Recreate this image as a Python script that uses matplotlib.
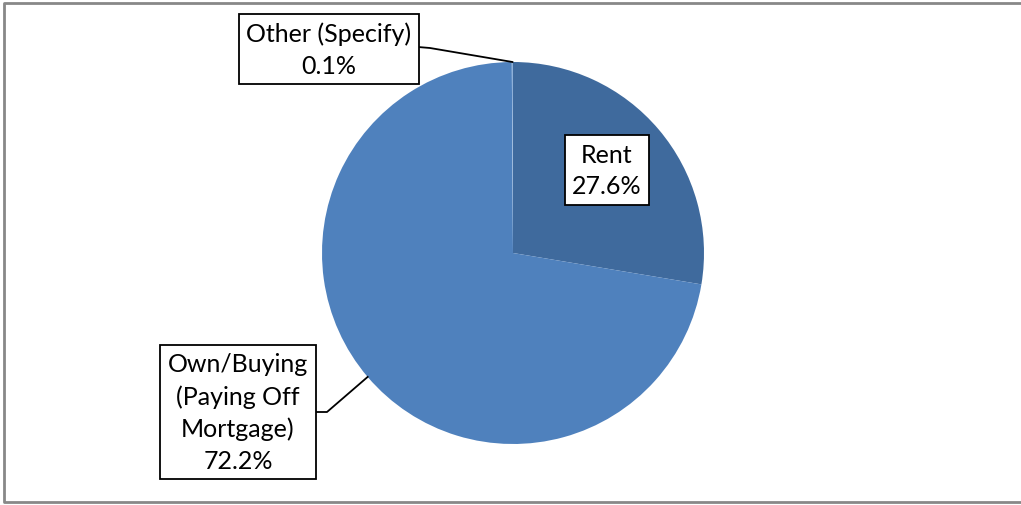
import numpy as np
import matplotlib.pyplot as plt

labels = ["Rent", "Own/Buying\n(Paying Off\nMortgage)", "Other (Specify)"]
shares = [27.6, 72.2, 0.1]
colors = ["#3F6A9D", "#4F81BD", "#8FB0D8"]

W, H = 1021, 506
fig = plt.figure(figsize=(W / 100, H / 100), dpi=100)
ax = fig.add_axes([0, 0, 1, 1])

plt.rcParams["font.family"] = ["Lato", "DejaVu Sans"]

cx, cy, r = 513, H - 254, 191
wedges, _ = ax.pie(shares, colors=colors, startangle=90, counterclock=False,
                   center=(cx, cy), radius=r, frame=True,
                   wedgeprops=dict(edgecolor="none", linewidth=0))
ax.set_xlim(0, W)
ax.set_ylim(0, H)
ax.set_aspect("equal")
ax.axis("off")

# chart border (right side is cut off in the original)
ax.plot([W, 3.5, 3.5, W], [H - 3.5, H - 3.5, 3.5, 3.5], color="#888888", lw=2)

box = dict(boxstyle="square,pad=0.3", facecolor="white", edgecolor="black", linewidth=1.3)
fs = 18
ls = 1.45

def mid_point(w, frac=1.0):
    a = np.deg2rad((w.theta1 + w.theta2) / 2)
    return cx + frac * r * np.cos(a), cy + frac * r * np.sin(a)

# Rent, label inside the slice
ax.text(607, H - 171, "%s\n%.1f%%" % (labels[0], shares[0]), ha="center", va="center",
        fontsize=fs, linespacing=ls, bbox=box)

# Own/Buying, label outside with leader
px, py = mid_point(wedges[1])
ax.plot([314, 327, px], [H - 413, H - 413, py], color="black", lw=1.3)
ax.text(238, H - 413, "%s\n%.1f%%" % (labels[1], shares[1]), ha="center", va="center",
        fontsize=fs, linespacing=ls, bbox=box)

# Other, label outside with leader
px, py = mid_point(wedges[2])
ax.plot([418, 430, px], [H - 48, H - 49, py], color="black", lw=1.3)
ax.text(329, H - 50, "%s\n%.1f%%" % (labels[2], shares[2]), ha="center", va="center",
        fontsize=fs, linespacing=ls, bbox=box)

fig.savefig("out.png", dpi=100)
